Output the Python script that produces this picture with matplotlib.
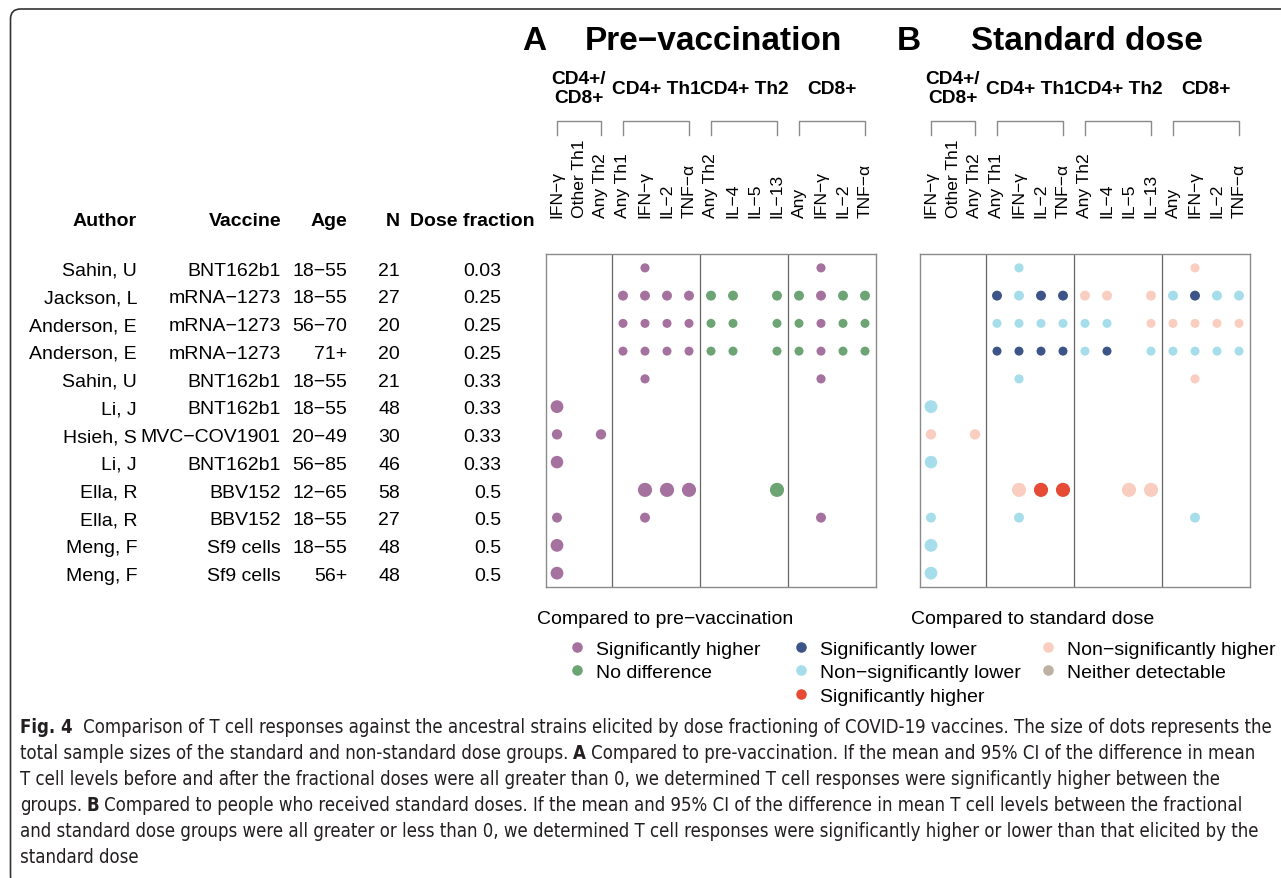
import matplotlib.pyplot as plt
from matplotlib.lines import Line2D
from matplotlib.patches import FancyBboxPatch
from matplotlib.transforms import blended_transform_factory, IdentityTransform

plt.rcParams['font.family'] = ['Liberation Sans', 'DejaVu Sans']

W, H = 1281, 879

# study table
authors = ['Sahin, U', 'Jackson, L', 'Anderson, E', 'Anderson, E', 'Sahin, U', 'Li, J',
           'Hsieh, S', 'Li, J', 'Ella, R', 'Ella, R', 'Meng, F', 'Meng, F']
vaccines = ['BNT162b1', 'mRNA\u22121273', 'mRNA\u22121273', 'mRNA\u22121273', 'BNT162b1', 'BNT162b1',
            'MVC\u2212COV1901', 'BNT162b1', 'BBV152', 'BBV152', 'Sf9 cells', 'Sf9 cells']
ages = ['18\u221255', '18\u221255', '56\u221270', '71+', '18\u221255', '18\u221255',
        '20\u221249', '56\u221285', '12\u221265', '18\u221255', '18\u221255', '56+']
n_sizes = [21, 27, 20, 20, 21, 48, 30, 46, 58, 27, 48, 48]
dose_fraction = ['0.03', '0.25', '0.25', '0.25', '0.33', '0.33',
                 '0.33', '0.33', '0.5', '0.5', '0.5', '0.5']

outcomes = ['IFN\u2212\u03b3', 'Other Th1', 'Any Th2', 'Any Th1', 'IFN\u2212\u03b3', 'IL\u22122',
            'TNF\u2212\u03b1', 'Any Th2', 'IL\u22124', 'IL\u22125', 'IL\u221213', 'Any',
            'IFN\u2212\u03b3', 'IL\u22122', 'TNF\u2212\u03b1']
groups = ['CD4+/\nCD8+', 'CD4+ Th1', 'CD4+ Th2', 'CD8+']
group_spans = [(0, 2), (3, 6), (7, 10), (11, 14)]

# one string per study, one character per outcome column
# A: H = significantly higher, N = no difference
pre_vacc = ['....H.......H..',
            '...HHHHNN.NNHNN',
            '...HHHHNN.NNHNN',
            '...HHHHNN.NNHNN',
            '....H.......H..',
            'H..............',
            'H.H............',
            'H..............',
            '....HHH...N....',
            'H...H.......H..',
            'H..............',
            'H..............']
# B: L = sig. lower, l = non-sig. lower, H = sig. higher, h = non-sig. higher
std_dose = ['....l.......h..',
            '...LlLLhh.hlLll',
            '...llllll.hhhhh',
            '...LLLLlL.lllll',
            '....l.......h..',
            'l..............',
            'h.h............',
            'l..............',
            '....hHH..hh....',
            'l...l.......l..',
            'l..............',
            'l..............']

colors_a = {'H': '#A5719E', 'N': '#6CA474'}
colors_b = {'L': '#3C5488', 'l': '#A6DDEA', 'H': '#E64B35', 'h': '#F9CDBF', 'n': '#BEB0A3'}


def fx(x):
    return x / W


def fy(y):
    return 1 - y / H


def dot_size(n):
    d = (6.3 + 0.135 * n) * 0.72
    return d * d


fig = plt.figure(figsize=(W / 100, H / 100), dpi=100)

frame = FancyBboxPatch((10.5, -8), 1400, 877, boxstyle='round,pad=0,rounding_size=10',
                       transform=IdentityTransform(), facecolor='none', edgecolor='#333333',
                       lw=1.2)
fig.patches.append(frame)

panels = [(546, pre_vacc, colors_a, 'A', 'Pre\u2212vaccination', 534, 585),
          (920, std_dose, colors_b, 'B', 'Standard dose', 909, 971)]
axes = []
for left, grid, cmap, letter, title, lx, tx in panels:
    ax = fig.add_axes([fx(left), fy(588), 330 / W, 333 / H])
    ax.set_xlim(-0.5, 14.5)
    ax.set_ylim(11.5, -0.5)
    ax.set_xticks([])
    ax.set_yticks([])
    for sp in ax.spines.values():
        sp.set_color('#8a8a8a')
        sp.set_linewidth(1.0)
    for xv in [2.5, 6.5, 10.5]:
        ax.axvline(xv, color='#666666', lw=0.9)
    for r, row in enumerate(grid):
        for c, code in enumerate(row):
            if code == '.':
                continue
            ax.scatter(c, r, s=dot_size(n_sizes[r]), color=cmap[code], edgecolors='none', zorder=3)
    blend = blended_transform_factory(ax.transData, fig.transFigure)
    for c, lab in enumerate(outcomes):
        ax.text(c, fy(218), lab, rotation=90, ha='center', va='bottom', fontsize=12.6,
                transform=blend)
    for (a, b), g in zip(group_spans, groups):
        ax.plot([a, a, b, b], [fy(136), fy(122), fy(122), fy(136)], color='#8a8a8a', lw=1,
                transform=blend, clip_on=False)
        ax.text((a + b) / 2, fy(89), g, ha='center', va='center', fontsize=13.8,
                fontweight='bold', transform=blend, linespacing=1.1)
    fig.text(fx(lx), fy(41), letter, fontsize=24, fontweight='bold', ha='center', va='center')
    fig.text(fx(tx), fy(41), title, fontsize=24, fontweight='bold', ha='left', va='center')
    axes.append(ax)

# study table to the left of panel A
axA = axes[0]
tblend = blended_transform_factory(fig.transFigure, axA.transData)
columns = [('Author', authors, 137), ('Vaccine', vaccines, 281), ('Age', ages, 347),
           ('N', [str(n) for n in n_sizes], 400), ('Dose fraction', dose_fraction, 501)]
for head, vals, xr in columns:
    hx = 535 if head == 'Dose fraction' else xr
    fig.text(fx(hx), fy(222), head, ha='right', va='center', fontsize=14, fontweight='bold')
    for r, v in enumerate(vals):
        axA.text(fx(xr), r + 0.08, v, ha='right', va='center', fontsize=14, transform=tblend)

# legends
fig.text(fx(537), fy(620), 'Compared to pre\u2212vaccination', fontsize=14, ha='left', va='center')
fig.text(fx(911), fy(620), 'Compared to standard dose', fontsize=14, ha='left', va='center')


def handle(col):
    return Line2D([], [], marker='o', linestyle='none', markersize=7.6,
                  markerfacecolor=col, markeredgecolor='none')


leg_kw = dict(loc='upper left', frameon=False, fontsize=14, handlelength=1.0,
              handletextpad=0.48, labelspacing=0.3, borderpad=0, borderaxespad=0)
leg1 = fig.legend([handle(colors_a['H']), handle(colors_a['N'])],
                  ['Significantly higher', 'No difference'],
                  bbox_to_anchor=(fx(577 - 9.7), fy(641)), **leg_kw)
leg2 = fig.legend([handle(colors_b['L']), handle(colors_b['l']), handle(colors_b['H']),
                   handle(colors_b['h']), handle(colors_b['n'])],
                  ['Significantly lower', 'Non\u2212significantly lower', 'Significantly higher',
                   'Non\u2212significantly higher', 'Neither detectable'],
                  bbox_to_anchor=(fx(801 - 9.7), fy(641)), ncol=2, columnspacing=0.9, **leg_kw)

# caption
caption = [
    [('Fig. 4', True), ('Comparison of T cell responses against the ancestral strains elicited by dose '
                        'fractioning of COVID-19 vaccines. The size of dots represents the', False)],
    [('total sample sizes of the standard and non-standard dose groups.', False), ('A', True),
     ('Compared to pre-vaccination. If the mean and 95% CI of the difference in mean', False)],
    [('T cell levels before and after the fractional doses were all greater than 0, we determined '
      'T cell responses were significantly higher between the', False)],
    [('groups.', False), ('B', True),
     ('Compared to people who received standard doses. If the mean and 95% CI of the difference '
      'in mean T cell levels between the fractional', False)],
    [('and standard dose groups were all greater or less than 0, we determined T cell responses '
      'were significantly higher or lower than that elicited by the', False)],
    [('standard dose', False)],
]
renderer = fig.canvas.get_renderer()


def put_line(x, y, parts, size, draw=True):
    gap = size * 100 / 72 * 0.25
    start = x
    for i, (txt, bold) in enumerate(parts):
        t = fig.text(fx(x), fy(y), txt, fontsize=size, family='DejaVu Sans',
                     fontstretch='condensed', color='#231f20',
                     fontweight='bold' if bold else 'normal', ha='left', va='center')
        bb = t.get_window_extent(renderer)
        if not draw:
            t.remove()
        x = bb.x1 + (gap * 2.2 if bold and i == 0 else gap)
    return x - gap - start


base = 13
width = put_line(20, 728, caption[0], base, draw=False)
cap_size = base * 1255 / width
for i, parts in enumerate(caption):
    put_line(20, 728 + 26 * i, parts, cap_size)

fig.savefig('out.png', dpi=100)
